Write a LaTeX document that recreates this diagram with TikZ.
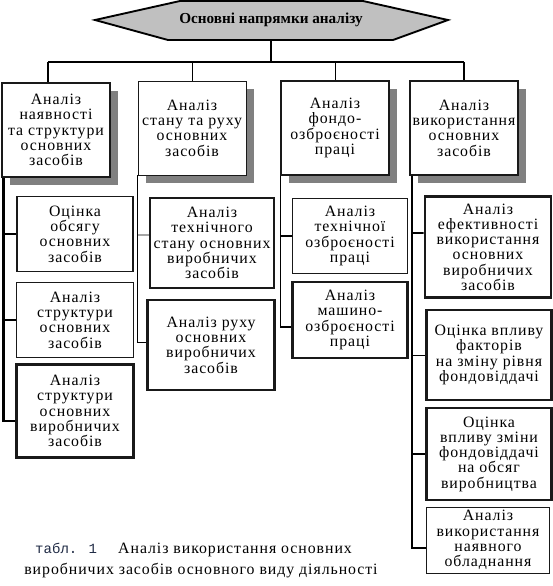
\documentclass[tikz,border=0pt]{standalone}
\usepackage{fontspec}
\setmainfont{Liberation Serif}
\newfontfamily\boxfont{Liberation Serif}[LetterSpace=6]
\newfontfamily\tabfont{Liberation Mono}
\usepackage{tikz}
\usetikzlibrary{positioning,calc,shadows,backgrounds}
\definecolor{hdgray}{HTML}{C0C0C0}
\definecolor{shgray}{HTML}{808080}
\definecolor{tabblue}{HTML}{1F2A44}
\tikzset{
  thinline/.style={line width=0.8pt},
  midline/.style={line width=1.6pt},
  thickline/.style={line width=2.5pt},
  box/.style={draw=black!90, fill=white, align=center, inner sep=0pt,
    font=\boxfont\fontsize{13.5}{13}\selectfont},
  topbox/.style={box, minimum width=32.4mm, minimum height=28.2mm,
    drop shadow={shadow xshift=2.4mm, shadow yshift=-2.4mm, fill=shgray, opacity=1}},
  subbox/.style={box, minimum width=35mm},
  captext/.style={font=\boxfont\fontsize{13.5}{13}\selectfont, inner sep=0pt}
}

\begin{document}
\begin{tikzpicture}[x=0.3mm, y=-0.3mm]
        \useasboundingbox (0,0) rectangle (553,586);

        % header
        \node[font=\bfseries\fontsize{13}{14}\selectfont, minimum height=11.7mm, inner sep=0pt] (title) at (271,20) {Основні напрямки аналізу};
        \begin{scope}[on background layer]
            \draw[midline, fill=hdgray] ($(title)+(-176,0)$) -- ($(title)+(-91,-19)$) -- ($(title)+(92,-19)$)
                -- ($(title)+(177,0)$) -- ($(title)+(122,20)$) -- ($(title)+(-103,20)$) -- cycle;
        \end{scope}

        % main directions
        \node[topbox, midline] (b1) at (56,130) {Аналіз\\наявності\\та структури\\основних\\засобів};
        \node[topbox, thinline] (b2) at (192,128) {Аналіз\\стану та руху\\основних\\засобів};
        \node[topbox, thickline] (b3) at (335,128) {Аналіз\\фондо-\\озброєності\\праці};
        \node[topbox, midline] (b4) at (464,128) {Аналіз\\використання\\основних\\засобів};

        % sub tasks
        \node[subbox, midline, minimum height=22.5mm] (c1a) at (75,234) {Оцінка\\обсягу\\основних\\засобів};
        \node[subbox, thinline, minimum height=22.5mm] (c1b) at (75,320) {Аналіз\\структури\\основних\\засобів};
        \node[subbox, thickline, minimum height=27.9mm] (c1c) at (75,411) {Аналіз\\структури\\основних\\виробничих\\засобів};

        \node[subbox, midline, minimum width=37.2mm, minimum height=27mm] (c2a) at (212,243) {Аналіз\\технічного\\стану основних\\виробничих\\засобів};
        \node[subbox, thickline, minimum width=38.1mm, minimum height=27mm] (c2b) at (211,345) {Аналіз руху\\основних\\виробничих\\засобів};

        \node[subbox, midline, minimum width=34.5mm, minimum height=22.5mm] (c3a) at (350,236) {Аналіз\\технічної\\озброєності\\праці};
        \node[subbox, thickline, minimum width=34.5mm, minimum height=22.8mm] (c3b) at (350,320) {Аналіз\\машино-\\озброєності\\праці};

        \node[subbox, thickline, minimum width=37.8mm, minimum height=30.3mm] (c4a) at (488,247) {Аналіз\\ефективності\\використання\\основних\\виробничих\\засобів};
        \node[subbox, thickline, minimum width=37.5mm, minimum height=27mm] (c4b) at (489,355) {Оцінка впливу\\факторів\\на зміну рівня\\фондовіддачі};
        \node[subbox, thickline, minimum width=37.5mm, minimum height=27.6mm] (c4c) at (489,454) {Оцінка\\впливу зміни\\фондовіддачі\\на обсяг\\виробництва};
        \node[subbox, thinline, minimum width=36.9mm, minimum height=19.8mm] (c4d) at (488,540) {Аналіз\\використання\\наявного\\обладнання};

        % caption
        \node[font=\tabfont\fontsize{12}{12}\selectfont, text=tabblue, anchor=west, inner sep=0pt] (tab) at (35,548) {табл. 1};
        \node[captext, anchor=west] (cap1) at (118,550) {Аналіз використання основних};
        \node[captext] (cap2) at (201,571) {виробничих засобів основного виду діяльності};

        % header links
        \coordinate (bus) at (0,62);
        \coordinate (d1) at ([xshift=-2.4mm]b1.north);
        \draw[midline] (title.south) -- (title.south |- bus);
        \draw[midline] (d1 |- bus) -- (b4.north |- bus);
        \draw[midline] (d1 |- bus) -- (d1);
        \draw[thinline] (b2.north |- bus) -- (b2.north);
        \draw[thinline] (b3.north |- bus) -- (b3.north);
        \draw[thickline] (b4.north |- bus) -- (b4.north);

        % column links
        \coordinate (s1) at ([xshift=0.6mm]b1.south west);
        \draw[thickline] (s1) |- ([yshift=-3mm]c1c.west);
        \draw[midline] (s1 |- c1a.west) -- (c1a.west);
        \draw[midline] (s1 |- c1b.west) -- (c1b.west);

        \coordinate (s2) at (b2.south west);
        \draw[thinline] (s2) |- ([yshift=0.9mm]c2b.west);
        \draw[thinline] (s2 |- c2a.west) ++(0,-8) -- ([yshift=2.4mm]c2a.west);

        \coordinate (s3) at ([xshift=0.3mm]b3.south west);
        \draw[midline] (s3) |- ([yshift=-2.1mm]c3b.west);
        \draw[midline] (s3 |- c3a.west) -- (c3a.west);

        \coordinate (s4) at ([xshift=0.9mm]b4.south west);
        \draw[midline] (s4) |- ([yshift=-2.4mm]c4d.west);
        \draw[midline] (s4 |- c4a.west) ++(0,-14) -- ([yshift=4.2mm]c4a.west);
        \draw[thinline] (s4 |- c4b.west) -- (c4b.west);
        \draw[thickline] (s4 |- c4c.west) -- (c4c.west);
    \end{tikzpicture}
\end{document}
